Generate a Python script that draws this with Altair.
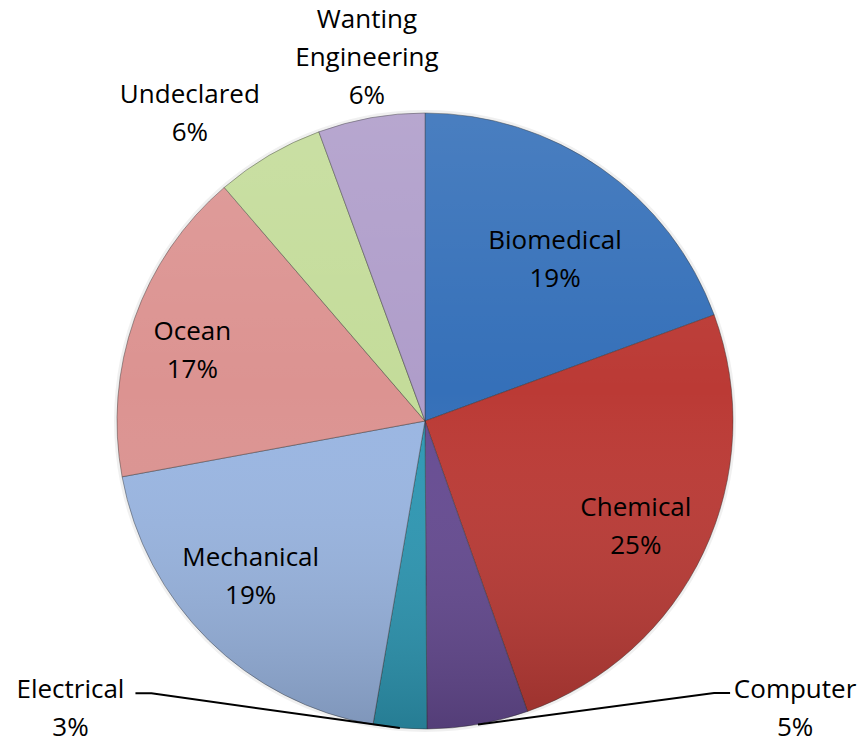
import math
import altair as alt
import pandas as pd

# ---------------- data ----------------
categories = ["Biomedical", "Chemical", "Computer", "Electrical",
              "Mechanical", "Ocean", "Undeclared", "Wanting Engineering"]
label_names = ["Biomedical", "Chemical", "Computer", "Electrical",
               "Mechanical", "Ocean", "Undeclared", "Wanting\nEngineering"]
shares = [19.4, 25.2, 5.3, 2.8, 19.4, 16.6, 5.7, 5.6]
colors = ["#3570b9", "#bb3a35", "#664b92", "#2e98b4",
          "#9ab6e2", "#dc9391", "#c4dc9a", "#af9dca"]

# ---------------- layout (styling, not data) ----------------
R = 308
LINE_H = 38
# label placement: (radius, angular shift from slice mid-angle in degrees)
label_layout = {
    "Biomedical": (207, 4.0),
    "Chemical": (236, 1.5),
    "Computer": (469, -42.2),
    "Electrical": (457, 46.2),
    "Mechanical": (234, 3.5),
    "Ocean": (243, -2.7),
    "Undeclared": (387, -7.0),
    "Wanting Engineering": (368, 1.0),
}
leader = {"Computer": -1, "Electrical": 1}  # side of the leader end relative to label

total = sum(shares)
rows, lab_rows, line_rows = [], [], []
cum = 0.0
for i, (c, ln, s) in enumerate(zip(categories, label_names, shares)):
    mid = (cum + s / 2) / total * 2 * math.pi
    cum += s
    rows.append({"category": c, "share": s, "idx": i})
    r, shift = label_layout[c]
    a = mid + math.radians(shift)
    lx, ly = r * math.sin(a), r * math.cos(a)
    txt = f"{ln}\n{round(s)}%"
    n_lines = txt.count("\n") + 1
    # first line sits at y; shift so the whole block is centred on (lx, ly)
    lab_rows.append({"category": c, "x": lx, "y": ly + (n_lines - 1) * LINE_H / 2,
                     "text": txt})
    if c in leader:
        side = leader[c]
        ex = lx + side * 65
        ey = ly + 16
        pts = [(R * math.sin(mid), R * math.cos(mid)), (ex + side * 16, ey), (ex, ey)]
        for k, (px, py) in enumerate(pts):
            line_rows.append({"category": c, "x": px, "y": py, "step": k})

df = pd.DataFrame(rows)
labels = pd.DataFrame(lab_rows)
lines = pd.DataFrame(line_rows)
whole = pd.DataFrame({"share": [total]})

xs = alt.Scale(domain=[-417, 433], nice=False, zero=False)
ys = alt.Scale(domain=[-318, 413], nice=False, zero=False)
X0 = alt.X(datum=0, scale=xs, axis=None)
Y0 = alt.Y(datum=0, scale=ys, axis=None)

halo = alt.Chart(whole).mark_arc(
    outerRadius=R + 3, fill="#000000", fillOpacity=0.06
).encode(theta=alt.Theta("share:Q"), x=X0, y=Y0)

pie = alt.Chart(df).mark_arc(
    outerRadius=R, stroke="#2f2f2f", strokeWidth=0.8, strokeOpacity=0.55
).encode(
    theta=alt.Theta("share:Q", stack=True),
    order=alt.Order("idx:Q"),
    color=alt.Color("category:N", scale=alt.Scale(domain=categories, range=colors), legend=None),
    x=X0, y=Y0,
)

shade = alt.Chart(whole).mark_arc(
    outerRadius=R,
    fill=alt.LinearGradient(
        gradient="linear", x1=0, y1=0, x2=0, y2=1,
        stops=[alt.GradientStop(offset=0, color="rgba(255,255,255,0.10)"),
               alt.GradientStop(offset=0.45, color="rgba(255,255,255,0)"),
               alt.GradientStop(offset=1, color="rgba(0,0,0,0.18)")]),
).encode(theta=alt.Theta("share:Q"), x=X0, y=Y0)

lead = alt.Chart(lines).mark_line(color="black", strokeWidth=2).encode(
    x=alt.X("x:Q", scale=xs, axis=None),
    y=alt.Y("y:Q", scale=ys, axis=None),
    detail="category:N",
    order="step:Q",
)

text = alt.Chart(labels).mark_text(
    font="Open Sans", fontSize=26, lineHeight=LINE_H, lineBreak="\n",
    align="center", baseline="middle", color="black",
).encode(
    x=alt.X("x:Q", scale=xs, axis=None),
    y=alt.Y("y:Q", scale=ys, axis=None),
    text="text:N",
)

chart = alt.layer(halo, pie, shade, lead, text).properties(
    width=850, height=731, padding=0, background="white",
    autosize=alt.AutoSizeParams(type="none"),
).configure_view(stroke=None, strokeWidth=0)

chart.save("out.html", embed_options={"renderer": "svg", "actions": False})
